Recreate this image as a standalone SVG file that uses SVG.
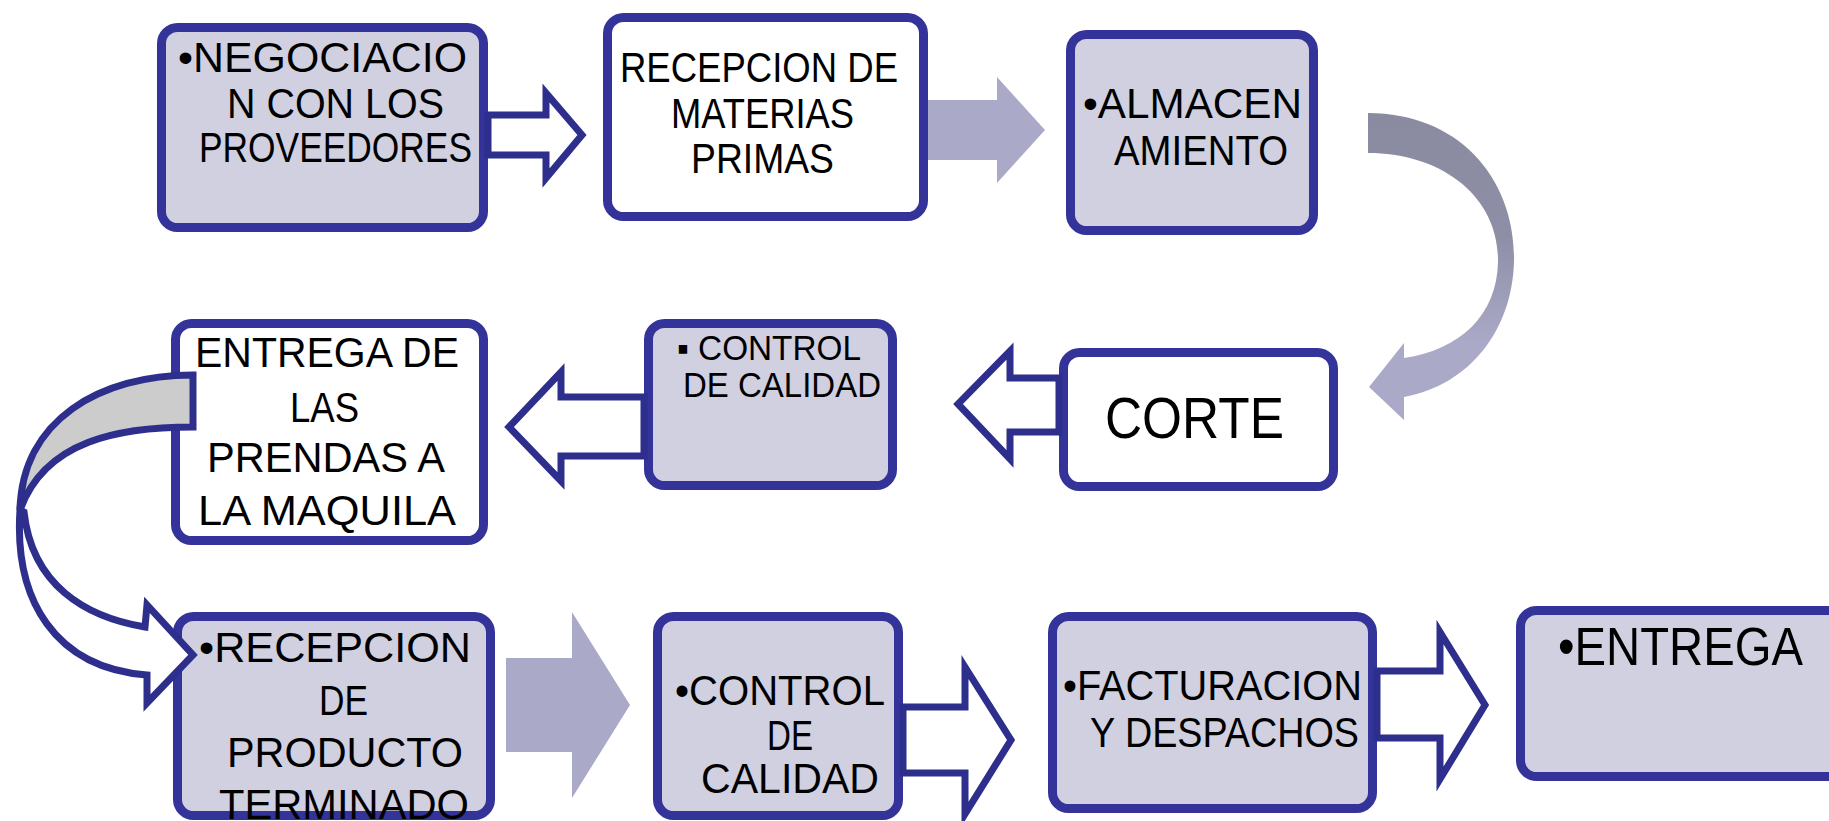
<svg xmlns="http://www.w3.org/2000/svg" width="1829" height="821" viewBox="0 0 1829 821">
<style>
.box{stroke:#333399;stroke-width:9}
.g{fill:#d0d0e0}
.w{fill:#ffffff}
.t{font-family:"Liberation Sans Narrow","Liberation Sans",Arial,sans-serif;font-size:42px;fill:#000}
.oa{fill:#ffffff;stroke:#2e2e8c;stroke-width:7;stroke-linejoin:miter}
.sa{fill:#aaaac8}
</style>
<defs>
<linearGradient id="cg" x1="0" y1="0" x2="0" y2="1">
<stop offset="0" stop-color="#8a8aa0"/>
<stop offset="0.4" stop-color="#8e8ea6"/>
<stop offset="0.75" stop-color="#aaaac8"/>
<stop offset="1" stop-color="#aaaac8"/>
</linearGradient>
</defs>
<rect width="1829" height="821" fill="#ffffff"/>

<g id="n1">
<rect class="box g" x="161.5" y="27.5" width="322" height="200" rx="16"/>
<text class="t" x="178" y="72" textLength="289" lengthAdjust="spacingAndGlyphs">•NEGOCIACIO</text>
<text class="t" x="227" y="118" textLength="217" lengthAdjust="spacingAndGlyphs">N CON LOS</text>
<text class="t" x="199" y="162" textLength="273" lengthAdjust="spacingAndGlyphs">PROVEEDORES</text>
</g>
<g id="n2">
<rect class="box w" x="607.5" y="17.5" width="316" height="199" rx="16"/>
<text class="t" x="620" y="82" textLength="278" lengthAdjust="spacingAndGlyphs">RECEPCION DE</text>
<text class="t" x="671" y="128" textLength="183" lengthAdjust="spacingAndGlyphs">MATERIAS</text>
<text class="t" x="691" y="173" textLength="143" lengthAdjust="spacingAndGlyphs">PRIMAS</text>
</g>
<g id="n3">
<rect class="box g" x="1070.5" y="34.5" width="243" height="196" rx="16"/>
<text class="t" x="1083" y="118" textLength="219" lengthAdjust="spacingAndGlyphs">•ALMACEN</text>
<text class="t" x="1114" y="165" textLength="174" lengthAdjust="spacingAndGlyphs">AMIENTO</text>
</g>
<g id="n4">
<rect class="box w" x="1063.5" y="352.5" width="270" height="134" rx="16"/>
<text class="t" x="1105" y="438" style="font-size:57px" textLength="179" lengthAdjust="spacingAndGlyphs">CORTE</text>
</g>
<g id="n5">
<rect class="box g" x="648.5" y="323.5" width="244" height="162" rx="16"/>
<text class="t" x="677" y="360" style="font-size:35px" textLength="184" lengthAdjust="spacingAndGlyphs">▪ CONTROL</text>
<text class="t" x="683" y="397" style="font-size:35px" textLength="198" lengthAdjust="spacingAndGlyphs">DE CALIDAD</text>
</g>
<g id="n6">
<rect class="box w" x="175.5" y="323.5" width="308" height="217" rx="16"/>
<text class="t" x="195" y="367" textLength="264" lengthAdjust="spacingAndGlyphs">ENTREGA DE</text>
<text class="t" x="290" y="422" textLength="69" lengthAdjust="spacingAndGlyphs">LAS</text>
<text class="t" x="207" y="472" textLength="238" lengthAdjust="spacingAndGlyphs">PRENDAS A</text>
<text class="t" x="198" y="525" textLength="258" lengthAdjust="spacingAndGlyphs">LA MAQUILA</text>
</g>
<g id="n7">
<rect class="box g" x="177.5" y="616.5" width="313" height="199" rx="16"/>
<text class="t" x="199" y="662" textLength="272" lengthAdjust="spacingAndGlyphs">•RECEPCION</text>
<text class="t" x="319" y="715" textLength="49" lengthAdjust="spacingAndGlyphs">DE</text>
<text class="t" x="227" y="767" textLength="236" lengthAdjust="spacingAndGlyphs">PRODUCTO</text>
<text class="t" x="219" y="819" textLength="250" lengthAdjust="spacingAndGlyphs">TERMINADO</text>
</g>
<g id="n8">
<rect class="box g" x="657.5" y="616.5" width="241" height="199" rx="16"/>
<text class="t" x="675" y="705" textLength="210" lengthAdjust="spacingAndGlyphs">•CONTROL</text>
<text class="t" x="767" y="750" textLength="46" lengthAdjust="spacingAndGlyphs">DE</text>
<text class="t" x="701" y="793" textLength="178" lengthAdjust="spacingAndGlyphs">CALIDAD</text>
</g>
<g id="n9">
<rect class="box g" x="1052.5" y="616.5" width="320" height="192" rx="16"/>
<text class="t" x="1063" y="700" textLength="299" lengthAdjust="spacingAndGlyphs">•FACTURACION</text>
<text class="t" x="1090" y="747" textLength="269" lengthAdjust="spacingAndGlyphs">Y DESPACHOS</text>
</g>
<g id="n10">
<rect class="box g" x="1520.5" y="610.5" width="340" height="166" rx="16"/>
<text class="t" x="1558" y="665" style="font-size:53px" textLength="245" lengthAdjust="spacingAndGlyphs">•ENTREGA</text>
</g>

<g id="connectors">
<polygon class="oa" points="488,115 546,115 546,93 582,135 546,178 546,155 488,155"/>
<polygon class="sa" points="928,100 997,100 997,77 1045,130 997,183 997,160 928,160"/>
<path fill="url(#cg)" d="M1368,113 C1460,113 1516,180 1514,262 C1512,330 1470,385 1404,397 L1404,420 L1369,387 L1404,343 L1404,358 C1460,350 1497,315 1498,262 C1499,195 1440,153 1368,153 Z"/>
<polygon class="oa" points="1059,378 1010,378 1010,351 958,404 1010,459 1010,432 1059,432"/>
<polygon class="oa" points="644,397 561,397 561,372 509,427 561,481 561,456 644,456"/>
<path class="oa" d="M20,510 C14,600 55,668 147,675 L147,703 L193,655 L147,605 L145,627 C85,617 32,585 24,512 Z"/>
<path class="oa" style="fill:#cccccc" d="M193,375 C100,375 22,420 20,510 C45,440 120,427 193,427 Z"/>
<polygon class="sa" points="506,658 572,658 572,612 630,705 572,798 572,752 506,752"/>
<polygon class="oa" points="903,707 965,707 965,667 1011,740 965,814 965,773 903,773"/>
<polygon class="oa" points="1377,671 1440,671 1440,632 1485,705 1440,779 1440,738 1377,738"/>
</g>
</svg>
